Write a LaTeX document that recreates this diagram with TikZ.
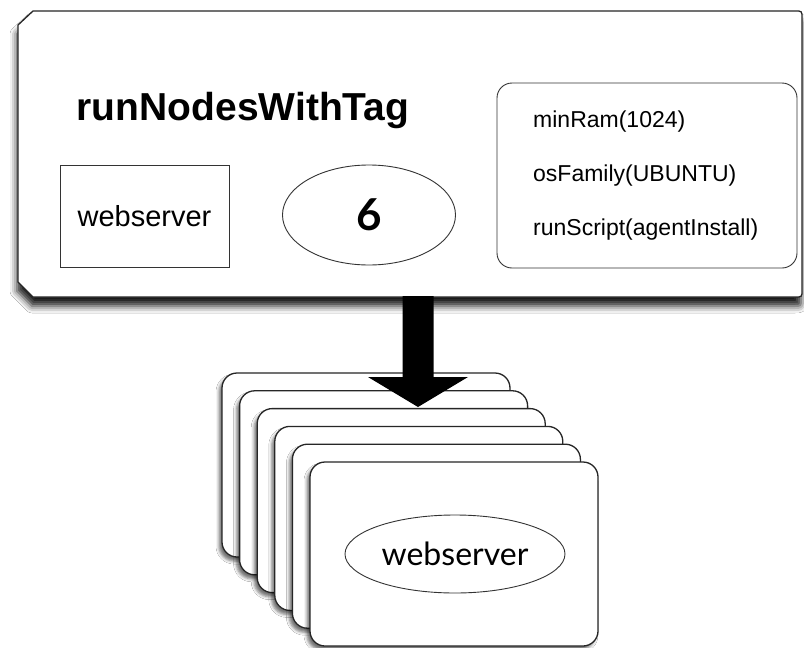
\documentclass[tikz,border=0pt]{standalone}
\usepackage{fontspec}
\setmainfont{Liberation Sans}
\newfontfamily\gill{Lato}
\usetikzlibrary{shapes.geometric,calc,shadows.blur}
\begin{document}
\begin{tikzpicture}[x=1pt,y=-1pt,
  outline/.style={draw=black!85, line width=1.3pt},
  card/.style={outline, fill=white, rounded corners=15pt, minimum width=288pt, minimum height=184pt, inner sep=0pt,
    blur shadow={shadow xshift=-3pt, shadow yshift=-4pt, shadow blur radius=3pt, shadow opacity=55}},
  thin/.style={draw=black!80, line width=0.9pt},
  opt/.style={anchor=base west, inner sep=0pt, font=\fontsize{23}{26}\selectfont}
]
\fill[white] (0,0) rectangle (804,648);
\useasboundingbox (0,0) rectangle (804,648);

% top box
\path[outline, fill=white, blur shadow={shadow xshift=-1pt, shadow yshift=-9pt, shadow blur radius=7pt, shadow opacity=90}]
  (18,25) -- (33,11) -- (795,11) .. controls (802,11) .. (802,18) -- (802,290)
  .. controls (802,297) .. (795,297) -- (33,297) -- (18,282) -- cycle;

\node[anchor=base, inner sep=0pt, font=\bfseries\fontsize{39}{42}\selectfont] (title) at (243,120) {runNodesWithTag};
\node[thin, minimum width=169pt, minimum height=102pt, inner sep=0pt, font=\fontsize{29}{32}\selectfont] (tag) at (144.5,216) {webserver};
\node[thin, ellipse, minimum width=173pt, minimum height=100pt, inner sep=0pt, font=\gill\bfseries\fontsize{44}{48}\selectfont] (count) at (369,215) {6};
\node[thin, rounded corners=15pt, minimum width=300pt, minimum height=185pt] (opts) at (647,175.5) {};
\node[opt] (o1) at (533,127) {minRam(1024)};
\node[opt] (o2) at (533,181) {osFamily(UBUNTU)};
\node[opt] (o3) at (533,235) {runScript(agentInstall)};

% stack of cards
\node[card] (c1) at (366,465) {};
\node[card] (c2) at (383.6,482.8) {};
\node[card] (c3) at (401.2,500.6) {};
\node[card] (c4) at (418.8,518.4) {};
\node[card] (c5) at (436.4,536.2) {};
\node[card] (c6) at (454,554) {};
\node[thin, ellipse, fill=white, minimum width=220pt, minimum height=78pt, inner sep=0pt, font=\gill\fontsize{32}{35}\selectfont] (ws) at (455,554) {webserver};

% arrow
\coordinate (abot) at (418,296);
\coordinate (atip) at (418,407);
\fill[black] ($(abot)+(-15.5,0)$) -- ($(abot)+(15.5,0)$) -- ($(atip)+(15.5,-30)$) -- ($(atip)+(50,-30)$)
  -- (atip) -- ($(atip)+(-50,-30)$) -- ($(atip)+(-15.5,-30)$) -- cycle;
\end{tikzpicture}
\end{document}
